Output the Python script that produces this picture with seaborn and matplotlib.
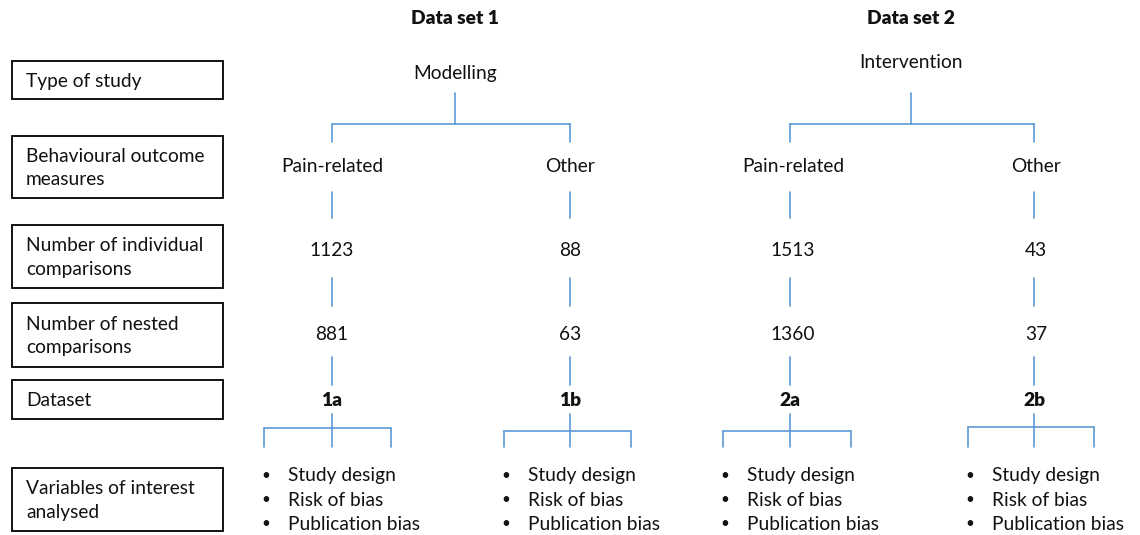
import pandas as pd
import seaborn as sns
import matplotlib
matplotlib.use("Agg")
from matplotlib import pyplot as plt
from matplotlib.patches import Rectangle

# ---- data ----
row_labels = ["Type of study", "Behavioural outcome\nmeasures",
              "Number of individual\ncomparisons", "Number of nested\ncomparisons",
              "Dataset", "Variables of interest\nanalysed"]
dataset_titles = ["Data set 1", "Data set 2"]
study_types = ["Modelling", "Intervention"]
outcome_groups = ["Pain-related", "Other", "Pain-related", "Other"]
individual_comparisons = [1123, 88, 1513, 43]
nested_comparisons = [881, 63, 1360, 37]
dataset_codes = ["1a", "1b", "2a", "2b"]
variables = ["Study design", "Risk of bias", "Publication bias"]

# ---- layout (pixel coordinates) ----
W, H = 1140, 535
box_x0, box_x1 = 12, 223
box_rows = [(61, 99), (136, 198), (225, 288), (303, 367), (380, 419), (468, 531)]
top_x = [455, 911]
top_y = [73, 63]
col_x = [332, 570, 790, 1034]
text_x = [332, 570, 793, 1036]
bracket = [(264, 391, 428), (504, 631, 431), (723, 851, 431), (968, 1094, 427)]
line_col = "#5b9bd5"
FONT = "Lato"

sns.set_theme(style="white")
plt.rcParams["font.family"] = [FONT, "DejaVu Sans"]

fig = plt.figure(figsize=(W / 100, H / 100), dpi=100)
ax = fig.add_axes([0, 0, 1, 1])
ax.set_xlim(0, W)
ax.set_ylim(H, 0)
ax.axis("off")

fs = 13.8
ink = "#111111"

# left label boxes
for label, (y0, y1) in zip(row_labels, box_rows):
    ax.add_patch(Rectangle((box_x0, y0), box_x1 - box_x0, y1 - y0,
                           fill=False, ec="black", lw=1.3))
    ax.text(box_x0 + 14, (y0 + y1) / 2 + 1, label, ha="left", va="center",
            fontsize=fs, linespacing=1.45, color=ink)

# headers
for i, t in enumerate(dataset_titles):
    ax.text(top_x[i], 18, t, ha="center", va="center", fontsize=fs,
            fontweight="heavy", color=ink)
    ax.text(top_x[i], top_y[i], study_types[i], ha="center", va="center",
            fontsize=fs, color=ink)

for j in range(4):
    tx = text_x[j]
    ax.text(tx, 166, outcome_groups[j], ha="center", va="center", fontsize=fs, color=ink)
    ax.text(tx, 250, str(individual_comparisons[j]), ha="center", va="center",
            fontsize=fs, color=ink)
    ax.text(tx, 335, str(nested_comparisons[j]), ha="center", va="center",
            fontsize=fs, color=ink)
    ax.text(col_x[j], 400, dataset_codes[j], ha="center", va="center", fontsize=fs,
            fontweight="heavy", color=ink)
    bx0 = bracket[j][0]
    for k, v in enumerate(variables):
        yy = 476 + 24 * k
        ax.text(bx0 + 2, yy, "\u2022", ha="center", va="center", fontsize=fs - 3,
                color=ink)
        ax.text(bx0 + 24, yy, v, ha="left", va="center", fontsize=fs, color=ink)

# connector segments
segs = []
def seg(x0, y0, x1, y1):
    n = len(segs)
    segs.append({"seg": n, "x": x0, "y": y0})
    segs.append({"seg": n, "x": x1, "y": y1})

for i in range(2):
    a, b = col_x[2 * i], col_x[2 * i + 1]
    seg(top_x[i], 93, top_x[i], 124)
    seg(a, 124, b, 124)
    seg(a, 124, a, 142)
    seg(b, 124, b, 142)
for j, x in enumerate(col_x):
    seg(x, 192, x, 218)
    seg(x, 278, x, 306)
    seg(x, 357, x, 385)
    l, r, yb = bracket[j]
    seg(x, 414, x, 447)
    seg(l, yb, r, yb)
    seg(l, yb, l, 447)
    seg(r, yb, r, 447)

seg_df = pd.DataFrame(segs)
sns.lineplot(data=seg_df, x="x", y="y", units="seg", estimator=None, sort=False,
             color=line_col, lw=1.2, ax=ax, legend=False)
ax.set_xlim(0, W)
ax.set_ylim(H, 0)
ax.axis("off")

fig.savefig("out.png", dpi=100)
